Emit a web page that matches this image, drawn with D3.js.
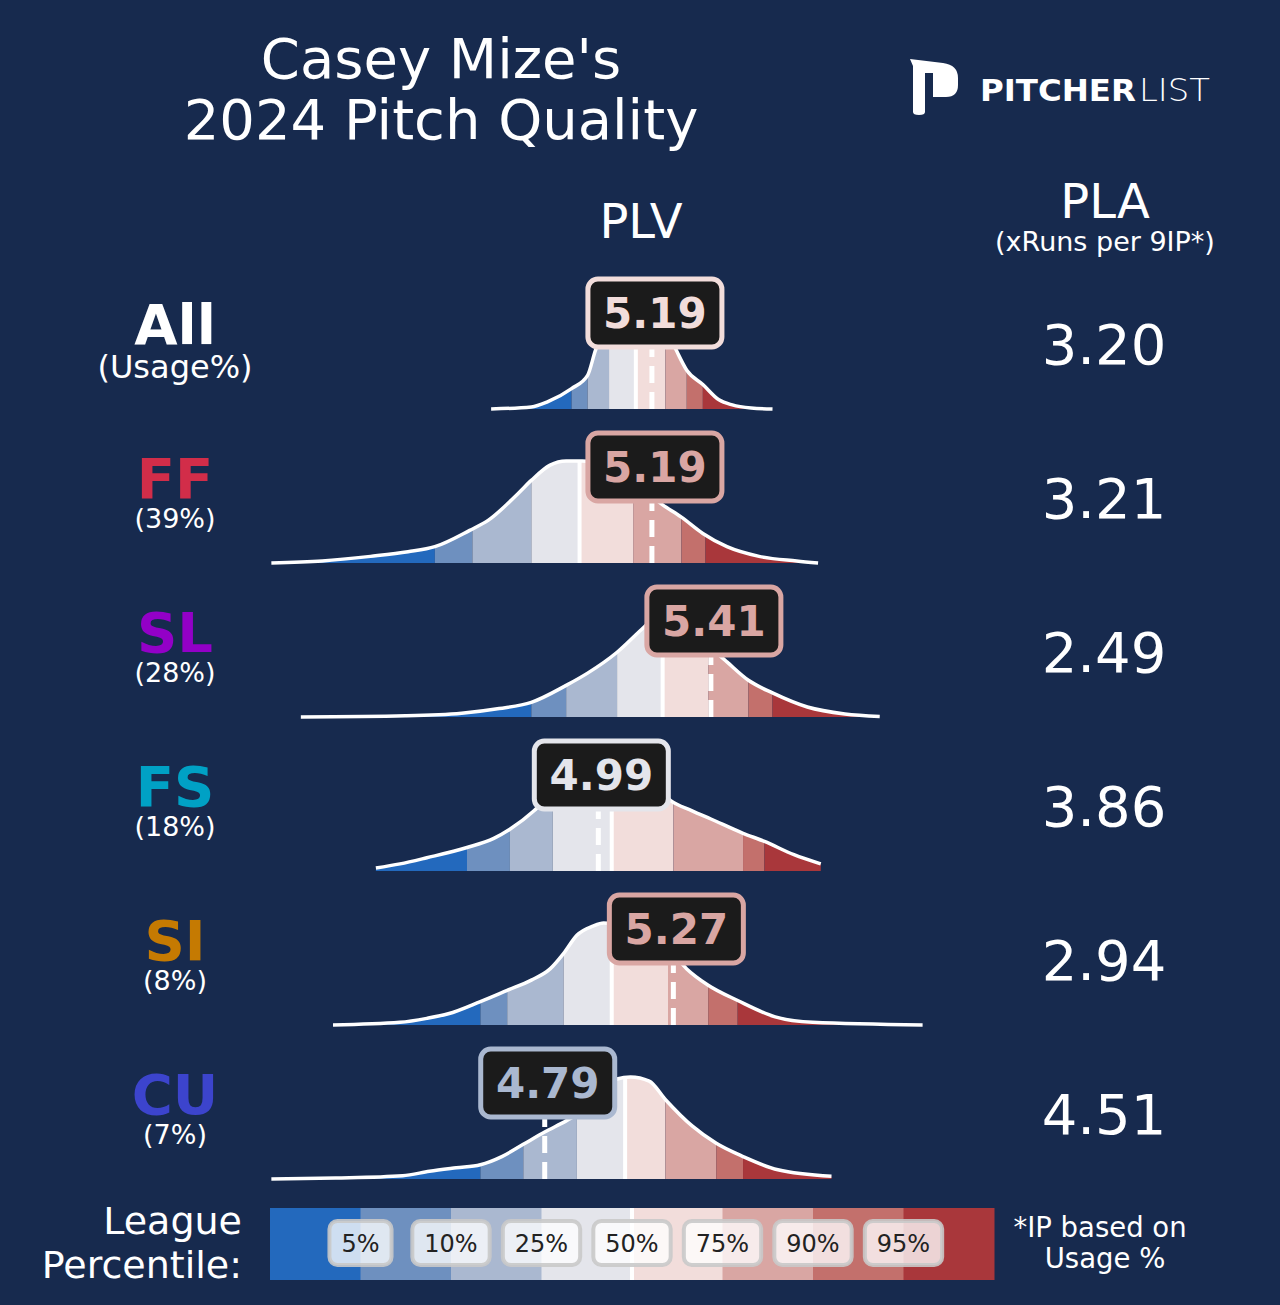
<!DOCTYPE html>
<html>
<head>
<meta charset="utf-8">
<script src="https://cdn.jsdelivr.net/npm/d3@7"></script>
<style>
  body { margin: 0; background: #172a4e; }
  svg { display: block; font-family: "DejaVu Sans", sans-serif; }
</style>
</head>
<body>
<div id="chart"></div>
<script>
// pitch rows, top to bottom
var pitches = ["All", "FF", "SL", "FS", "SI", "CU"];
var usage = ["(Usage%)", "(39%)", "(28%)", "(18%)", "(8%)", "(7%)"];
var pitchColors = ["#ffffff", "#d22d49", "#9300c7", "#00a1c5", "#c57a02", "#3c44cd"];
var plv = [5.19, 5.19, 5.41, 4.99, 5.27, 4.79];
var pla = ["3.20", "3.21", "2.49", "3.86", "2.94", "4.51"];

// league percentile cut points (5,10,25,50,75,90,95) per pitch
var pctLabels = ["5%", "10%", "25%", "50%", "75%", "90%", "95%"];
var pctCuts = [
    [4.89, 4.95, 5.03, 5.13, 5.24, 5.32, 5.38],
    [4.38, 4.52, 4.74, 4.92, 5.12, 5.30, 5.39],
    [4.74, 4.87, 5.06, 5.23, 5.40, 5.55, 5.64],
    [4.50, 4.66, 4.82, 5.04, 5.27, 5.53, 5.61],
    [4.55, 4.65, 4.86, 5.04, 5.25, 5.40, 5.51],
    [4.55, 4.71, 4.91, 5.09, 5.24, 5.43, 5.53]
];

// league PLV distributions (scaled density, peak = 1)
var curvePlv = [
    [4.59, 4.74, 4.80, 4.89, 4.95, 4.98, 5.03, 5.11, 5.18, 5.24, 5.28, 5.32, 5.38, 5.44, 5.49, 5.56, 5.64],
    [3.77, 3.96, 4.14, 4.28, 4.38, 4.51, 4.58, 4.69, 4.74, 4.81, 4.87, 4.93, 5.00, 5.07, 5.15, 5.23, 5.30, 5.38, 5.47, 5.59, 5.73, 5.81],
    [3.88, 4.27, 4.48, 4.62, 4.74, 4.87, 4.95, 5.06, 5.16, 5.19, 5.22, 5.25, 5.29, 5.35, 5.41, 5.47, 5.55, 5.64, 5.77, 5.91, 6.04],
    [4.16, 4.25, 4.35, 4.50, 4.60, 4.66, 4.75, 4.81, 4.88, 4.96, 5.01, 5.09, 5.16, 5.22, 5.26, 5.34, 5.41, 5.53, 5.61, 5.72, 5.82],
    [4.00, 4.25, 4.35, 4.43, 4.55, 4.65, 4.74, 4.81, 4.86, 4.91, 4.97, 5.01, 5.07, 5.15, 5.22, 5.28, 5.32, 5.40, 5.51, 5.65, 5.79, 6.20],
    [3.77, 4.01, 4.26, 4.36, 4.46, 4.55, 4.63, 4.71, 4.79, 4.87, 4.91, 4.99, 5.06, 5.11, 5.18, 5.24, 5.34, 5.43, 5.53, 5.66, 5.86]
];
var curveDensity = [
    [0, 0.02, 0.07, 0.20, 0.33, 0.58, 0.82, 1.00, 0.96, 0.80, 0.58, 0.38, 0.24, 0.09, 0.04, 0.01, 0],
    [0, 0.02, 0.065, 0.11, 0.16, 0.32, 0.42, 0.68, 0.81, 0.96, 1.00, 1.00, 0.96, 0.86, 0.73, 0.57, 0.45, 0.29, 0.16, 0.065, 0.02, 0],
    [0, 0.012, 0.037, 0.083, 0.144, 0.31, 0.43, 0.635, 0.88, 0.95, 0.99, 1.00, 0.95, 0.83, 0.68, 0.54, 0.36, 0.236, 0.098, 0.03, 0.006],
    [0.03, 0.07, 0.13, 0.23, 0.32, 0.41, 0.59, 0.75, 0.90, 0.98, 1.00, 0.97, 0.88, 0.78, 0.69, 0.59, 0.51, 0.37, 0.29, 0.16, 0.07],
    [0, 0.026, 0.065, 0.11, 0.23, 0.34, 0.44, 0.55, 0.70, 0.88, 0.97, 1.00, 0.98, 0.90, 0.78, 0.66, 0.55, 0.39, 0.24, 0.08, 0.026, 0],
    [0, 0.01, 0.033, 0.075, 0.11, 0.14, 0.22, 0.34, 0.46, 0.57, 0.63, 0.81, 0.98, 1.00, 0.96, 0.78, 0.52, 0.35, 0.22, 0.09, 0.026]
];

var bandColors = ["#2369bd", "#6e90bf", "#aab8d0", "#e4e5eb", "#f2dddb", "#d9a6a3", "#c3706c", "#a9373b"];

var width = 1280, height = 1305;
var rowTop = 409, rowStep = 154, peakHeight = 102;

var x = d3.scaleLinear().domain([3, 7]).range([65, 1137]);
var y = d3.scaleLinear().domain([0, 1]).range([0, -peakHeight]);

var svg = d3.select("#chart").append("svg")
    .attr("width", width)
    .attr("height", height);

svg.append("rect").attr("width", width).attr("height", height).attr("fill", "#172a4e");

// title
svg.append("text")
    .attr("x", 441).attr("y", 78)
    .attr("text-anchor", "middle").attr("fill", "#fff").attr("font-size", 56)
    .text("Casey Mize's");
svg.append("text")
    .attr("x", 441).attr("y", 139)
    .attr("text-anchor", "middle").attr("fill", "#fff").attr("font-size", 56)
    .text("2024 Pitch Quality");

// logo
svg.append("path")
    .attr("d", "M910,59 L943,63 Q958,65 958,78 L958,85 Q958,97 946,97 L933,97 L933,73 L925,73 L925,112 Q925,115 919,115 Q913,115 913,112 L913,66 Z")
    .attr("fill", "#fff");
svg.append("text")
    .attr("x", 980).attr("y", 101)
    .attr("fill", "#fff").attr("font-size", 31).attr("font-weight", "bold")
    .attr("textLength", 156).attr("lengthAdjust", "spacingAndGlyphs")
    .text("PITCHER");
svg.append("text")
    .attr("x", 1139).attr("y", 101)
    .attr("fill", "#fff").attr("font-size", 32).attr("font-weight", 200)
    .attr("font-family", "'DejaVu Sans', Inter, sans-serif")
    .attr("textLength", 71).attr("lengthAdjust", "spacingAndGlyphs")
    .text("LIST");

// column headers
svg.append("text")
    .attr("x", 641).attr("y", 238)
    .attr("text-anchor", "middle").attr("fill", "#fff").attr("font-size", 48)
    .text("PLV");
svg.append("text")
    .attr("x", 1105).attr("y", 218)
    .attr("text-anchor", "middle").attr("fill", "#fff").attr("font-size", 48)
    .text("PLA");
svg.append("text")
    .attr("x", 1105).attr("y", 251)
    .attr("text-anchor", "middle").attr("fill", "#fff").attr("font-size", 27)
    .text("(xRuns per 9IP*)");

var defs = svg.append("defs");

var area = d3.area()
    .x(function(d){ return x(d[0]); })
    .y0(0)
    .y1(function(d){ return y(d[1]); })
    .curve(d3.curveMonotoneX);

var line = d3.line()
    .x(function(d){ return x(d[0]); })
    .y(function(d){ return y(d[1]); })
    .curve(d3.curveMonotoneX);

pitches.forEach(function(p, i){
    var pts = curvePlv[i].map(function(v, j){ return [v, curveDensity[i][j]]; });
    var cuts = pctCuts[i];
    var edges = [x.domain()[0]].concat(cuts, [x.domain()[1]]);

    var g = svg.append("g")
        .attr("transform", "translate(0," + (rowTop + i * rowStep) + ")");

    defs.append("clipPath").attr("id", "clip" + i)
        .append("path").attr("d", area(pts));

    var fills = g.append("g").attr("clip-path", "url(#clip" + i + ")");
    fills.selectAll("rect")
        .data(bandColors)
        .enter()
        .append("rect")
        .attr("x", function(d, k){ return x(edges[k]); })
        .attr("width", function(d, k){ return x(edges[k + 1]) - x(edges[k]); })
        .attr("y", -peakHeight - 10)
        .attr("height", peakHeight + 10)
        .attr("fill", function(d){ return d; });

    // league median
    fills.append("line")
        .attr("x1", x(cuts[3])).attr("x2", x(cuts[3]))
        .attr("y1", 0).attr("y2", -peakHeight - 10)
        .attr("stroke", "#fff").attr("stroke-width", 4);

    g.append("path")
        .attr("d", line(pts))
        .attr("fill", "none")
        .attr("stroke", "#fff")
        .attr("stroke-width", 3.5);

    // pitcher value
    var vx = x(plv[i]);
    g.append("line")
        .attr("x1", vx).attr("x2", vx)
        .attr("y1", 0).attr("y2", -96)
        .attr("stroke", "#fff").attr("stroke-width", 5)
        .attr("stroke-dasharray", "17,9");

    var col = bandColors[d3.bisect(cuts, plv[i])];
    var box = g.append("g").attr("transform", "translate(" + (vx + 3) + "," + (-96) + ")");
    box.append("rect")
        .attr("x", -67).attr("y", -34)
        .attr("width", 134).attr("height", 68)
        .attr("rx", 10)
        .attr("fill", "#1b1b1b")
        .attr("stroke", col).attr("stroke-width", 5);
    box.append("text")
        .attr("y", 15)
        .attr("text-anchor", "middle")
        .attr("fill", col).attr("font-size", 42).attr("font-weight", "bold")
        .text(d3.format(".2f")(plv[i]));

    // left labels
    g.append("text")
        .attr("x", 175).attr("y", -65)
        .attr("text-anchor", "middle")
        .attr("fill", pitchColors[i]).attr("font-size", 56).attr("font-weight", "bold")
        .text(p);
    g.append("text")
        .attr("x", 175).attr("y", i === 0 ? -31 : -35)
        .attr("text-anchor", "middle")
        .attr("fill", "#fff").attr("font-size", i === 0 ? 32 : 27)
        .text(usage[i]);

    // PLA
    g.append("text")
        .attr("x", 1104).attr("y", -45)
        .attr("text-anchor", "middle")
        .attr("fill", "#fff").attr("font-size", 56)
        .text(pla[i]);
});

// legend
var legendX = d3.scaleLinear().domain([0, 8]).range([270, 994]);
var legend = svg.append("g").attr("transform", "translate(0,1208)");
legend.selectAll("rect.band")
    .data(bandColors)
    .enter()
    .append("rect")
    .attr("class", "band")
    .attr("x", function(d, k){ return legendX(k); })
    .attr("width", legendX(1) - legendX(0) + 0.5)
    .attr("height", 72)
    .attr("fill", function(d){ return d; });
legend.append("line")
    .attr("x1", legendX(4)).attr("x2", legendX(4))
    .attr("y1", 0).attr("y2", 72)
    .attr("stroke", "#fff").attr("stroke-width", 4);

var tags = legend.selectAll("g.tag")
    .data(pctLabels)
    .enter()
    .append("g")
    .attr("class", "tag")
    .attr("transform", function(d, k){ return "translate(" + legendX(k + 1) + ",35)"; });
tags.append("rect")
    .attr("fill", "#fff").attr("fill-opacity", 0.78)
    .attr("stroke", "#c9c9c9").attr("stroke-opacity", 0.9).attr("stroke-width", 4)
    .attr("rx", 8);
tags.append("text")
    .attr("y", 9)
    .attr("text-anchor", "middle")
    .attr("fill", "#222").attr("font-size", 24)
    .text(function(d){ return d; });
tags.each(function(){
    var t = d3.select(this);
    var w = t.select("text").node().getComputedTextLength() + 24;
    t.select("rect").attr("x", -w / 2).attr("y", -22).attr("width", w).attr("height", 44);
});

svg.append("text")
    .attr("x", 242).attr("y", 1234)
    .attr("text-anchor", "end").attr("fill", "#fff").attr("font-size", 38)
    .text("League");
svg.append("text")
    .attr("x", 242).attr("y", 1278)
    .attr("text-anchor", "end").attr("fill", "#fff").attr("font-size", 38)
    .text("Percentile:");

svg.append("text")
    .attr("x", 1100).attr("y", 1237)
    .attr("text-anchor", "middle").attr("fill", "#fff").attr("font-size", 27.5)
    .text("*IP based on");
svg.append("text")
    .attr("x", 1105).attr("y", 1268)
    .attr("text-anchor", "middle").attr("fill", "#fff").attr("font-size", 27.5)
    .text("Usage %");
</script>
</body>
</html>
